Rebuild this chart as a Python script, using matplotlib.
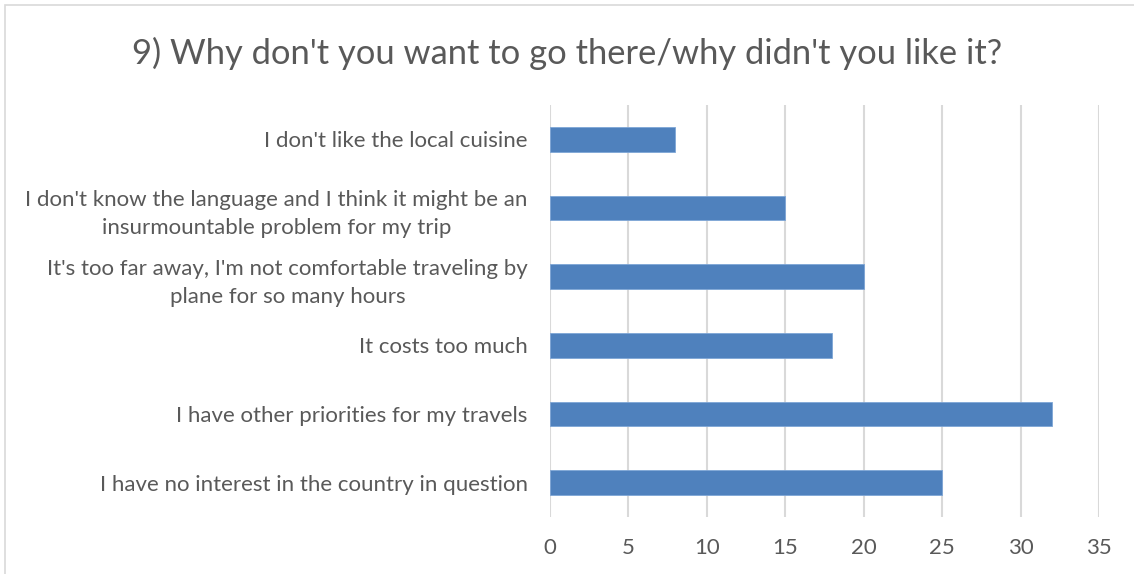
import matplotlib
matplotlib.use("Agg")
import matplotlib.pyplot as plt
from matplotlib.patches import Rectangle

categories = [
    "I have no interest in the country in question",
    "I have other priorities for my travels",
    "It costs too much",
    "It's too far away, I'm not comfortable traveling by\nplane for so many hours",
    "I don't know the language and I think it might be an\ninsurmountable problem for my trip",
    "I don't like the local cuisine",
]
values = [25, 32, 18, 20, 15, 8]
x_ticks = [0, 5, 10, 15, 20, 25, 30, 35]
title = "9) Why don't you want to go there/why didn't you like it?"

plt.rcParams['font.family'] = ['Lato', 'DejaVu Sans']
W, H = 1134, 574
fig = plt.figure(figsize=(W / 100, H / 100), dpi=100)

ax = fig.add_axes([550 / W, 1 - 517 / H, (1099 - 550) / W, (517 - 105) / H])
ypos = list(range(len(categories)))
ax.barh(ypos, values, height=0.36, color="#4F81BD", edgecolor="#7EA6D6",
        linewidth=0.6, zorder=3)
ax.set_xlim(0, 35)
ax.set_ylim(-0.5, len(categories) - 0.5)
ax.set_xticks(x_ticks)
ax.set_xticklabels([str(t) for t in x_ticks])
ax.set_yticks(ypos)
ax.set_yticklabels(categories, ha="right", multialignment="center",
                   linespacing=1.5)
ax.tick_params(axis="both", length=0, labelsize=16, colors="#595959")
ax.tick_params(axis="y", pad=16)
ax.tick_params(axis="x", pad=15)
ax.grid(axis="x", color="#D9D9D9", linewidth=1.5, zorder=0)
for s in ax.spines.values():
    s.set_visible(False)

fig.text(0.5, 1 - 53 / H, title, ha="center", va="center",
         fontsize=24.8, color="#595959")

fig.patches.append(Rectangle((5 / W, -0.1), 1.2, 1 - 5 / H + 0.1,
                             transform=fig.transFigure, fill=False,
                             edgecolor="#D9D9D9", linewidth=1.2))

fig.savefig("out.png", dpi=100)
